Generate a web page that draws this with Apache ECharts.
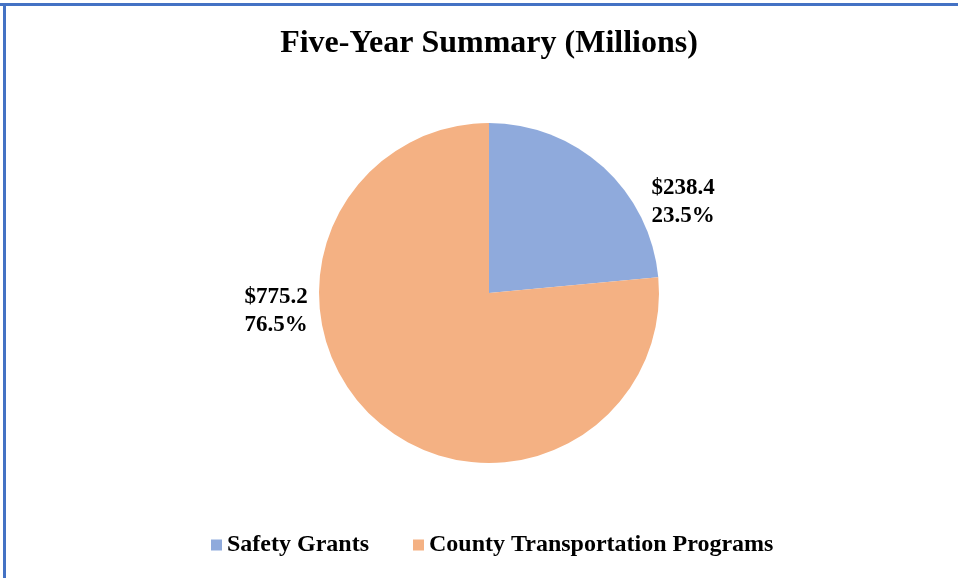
<!DOCTYPE html>
<html><head><meta charset="utf-8">
<script src="https://cdn.jsdelivr.net/npm/echarts@6/dist/echarts.min.js"></script>
<style>html,body{margin:0;padding:0;background:#fff;}#c{width:958px;height:578px;}</style>
</head><body><div id="c"></div>
<script>
const titleText = 'Five-Year Summary (Millions)';
const categories = ['Safety Grants', 'County Transportation Programs'];
const values = [238.4, 775.2];
const percents = ['23.5%', '76.5%'];
const colors = ['#8FAADC', '#F4B183'];
const FONT = '"Liberation Serif","Times New Roman",serif';

const chart = echarts.init(document.getElementById('c'));
chart.setOption({
  backgroundColor: '#fff',
  animation: false,
  title: {
    text: titleText, left: 484, textAlign: 'center', top: 23,
    textStyle: {fontFamily: FONT, fontWeight: 'bold', fontSize: 32, color: '#000'}
  },
  legend: {
    top: 528, left: 206,
    itemWidth: 11, itemHeight: 11, itemGap: 44, icon: 'rect',
    textStyle: {fontFamily: FONT, fontWeight: 'bold', fontSize: 24, color: '#000'},
    data: categories
  },
  graphic: [
    {type: 'rect', shape: {x: 0, y: 3, width: 958, height: 3}, style: {fill: '#4472C4'}},
    {type: 'rect', shape: {x: 3, y: 3, width: 3, height: 575}, style: {fill: '#4472C4'}}
  ],
  series: [{
    type: 'pie',
    center: [489, 293], radius: 170,
    startAngle: 90, clockwise: true,
    data: categories.map((n, i) => ({name: n, value: values[i], itemStyle: {color: colors[i]}})),
    label: {
      show: true, position: 'outside',
      formatter: p => '$' + p.value.toFixed(1) + '\n' + percents[p.dataIndex],
      fontFamily: FONT, fontWeight: 'bold', fontSize: 23, lineHeight: 28, color: '#000', align: 'center'
    },
    labelLine: {show: false},
    labelLayout: p => p.dataIndex === 0
      ? {x: 683, y: 202, align: 'center', verticalAlign: 'middle'}
      : {x: 276, y: 311, align: 'center', verticalAlign: 'middle'},
    emphasis: {disabled: true}
  }]
});
</script></body></html>
